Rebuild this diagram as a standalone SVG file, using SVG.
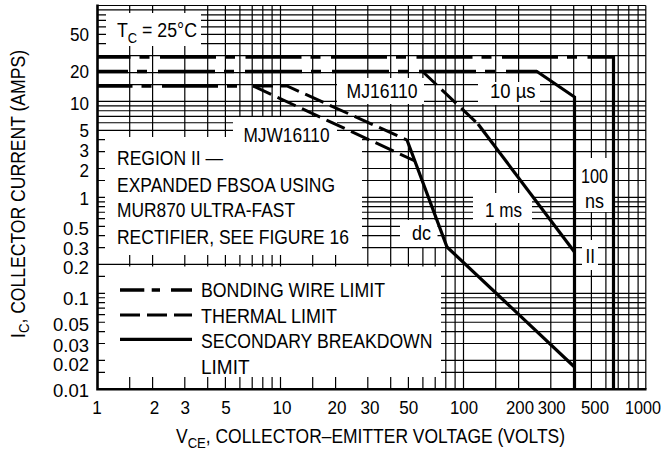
<svg xmlns="http://www.w3.org/2000/svg" width="667" height="455" viewBox="0 0 667 455">
<style>
text{font-family:'Liberation Sans',Arial,Helvetica,sans-serif;fill:#000}
.n{font-size:18.5px}
.l{font-size:20px}
.grid{stroke:#000;stroke-width:1.2;fill:none}
.ax{stroke:#000;stroke-width:2.6;fill:none}
.box{fill:#fff;stroke:none}
.bw{stroke:#000;stroke-width:3.6;fill:none}
.th{stroke:#000;stroke-width:3;fill:none;stroke-dasharray:20 7}
.sb{stroke:#000;stroke-width:3.2;fill:none;stroke-linejoin:miter}
</style>
<rect width="667" height="455" fill="#fff"/>
<g id="grid">
<path class="grid" d="M97.5 5.5H645.8M97.5 9.89H645.8M97.5 14.8H645.8M97.5 20.36H645.8M97.5 26.78H645.8M97.5 34.38H645.8M97.5 43.68H645.8M97.5 55.67H645.8M97.5 72.57H645.8M97.5 84.55H645.8M97.5 101.45H645.8M97.5 105.84H645.8M97.5 110.75H645.8M97.5 116.31H645.8M97.5 122.73H645.8M97.5 130.33H645.8M97.5 139.63H645.8M97.5 151.62H645.8M97.5 168.52H645.8M97.5 180.5H645.8M97.5 197.4H645.8M97.5 201.79H645.8M97.5 206.7H645.8M97.5 212.26H645.8M97.5 218.68H645.8M97.5 226.28H645.8M97.5 235.58H645.8M97.5 247.57H645.8M97.5 264.47H645.8M97.5 276.45H645.8M97.5 293.35H645.8M97.5 297.74H645.8M97.5 302.65H645.8M97.5 308.21H645.8M97.5 314.63H645.8M97.5 322.23H645.8M97.5 331.53H645.8M97.5 343.52H645.8M97.5 360.42H645.8M97.5 372.4H645.8"/>
<path class="grid" d="M129.7 5.5V389.3M152.6 5.5V389.3M184.8 5.5V389.3M207.7 5.5V389.3M225.4 5.5V389.3M239.9 5.5V389.3M252.2 5.5V389.3M262.8 5.5V389.3M272.1 5.5V389.3M280.5 5.5V389.3M312.7 5.5V389.3M335.6 5.5V389.3M367.8 5.5V389.3M390.7 5.5V389.3M408.4 5.5V389.3M422.9 5.5V389.3M435.2 5.5V389.3M445.8 5.5V389.3M455.1 5.5V389.3M463.5 5.5V389.3M495.7 5.5V389.3M518.6 5.5V389.3M550.8 5.5V389.3M573.7 5.5V389.3M591.4 5.5V389.3M605.9 5.5V389.3M618.2 5.5V389.3M628.8 5.5V389.3M638.1 5.5V389.3M645.8 5.5V389.3"/>
</g>
<g id="label-boxes">
<rect class="box" x="106" y="13" width="95" height="33"/>
<rect class="box" x="337" y="78" width="87" height="26"/>
<rect class="box" x="233" y="117" width="104" height="28"/>
<rect class="box" x="105" y="137" width="257" height="118"/>
<rect class="box" x="400" y="220" width="37.5" height="27"/>
<rect class="box" x="105" y="266.5" width="336" height="110.5"/>
<rect class="box" x="478" y="82" width="62" height="23"/>
<rect class="box" x="473" y="193" width="59" height="30"/>
<rect class="box" x="575" y="158" width="37" height="54"/>
<rect class="box" x="582" y="240" width="16" height="30"/>
</g>
<g id="axes">
<path class="ax" d="M97.5 4.5V390.5M96.2 389.3H646.5"/>
</g>
<g id="connectors">
<path class="bw" d="M97.5 57H613.5" stroke-dasharray="56 9 10 10.5" stroke-dashoffset="23"/>
<path class="sb" d="M613.5 55.2V389.3" stroke-width="4"/>
<path class="bw" d="M97.5 71.5H537" stroke-dasharray="57 9 10 11" stroke-dashoffset="26.5"/>
<path class="sb" d="M535.5 71.5H537L574.5 97V389.3" stroke-width="3.4"/>
<path class="bw" d="M97.5 86H246" stroke-dasharray="56 9 10 10.5" stroke-dashoffset="21"/>
<path class="th" d="M253 86H287L407 140"/>
<path class="th" d="M253 86L415 161"/>
<path class="sb" d="M407 140L447 247L574.5 367"/>
<path class="th" d="M422 71L478 124"/>
<path class="sb" d="M478 124L574.5 252"/>
</g>
<g id="curve-labels">
<text class="l" x="117" y="37.3" textLength="80" lengthAdjust="spacingAndGlyphs">T<tspan font-size="14.5" dy="5.2">C</tspan><tspan dy="-5.2"> = 25°C</tspan></text>
<text class="l" x="346.5" y="98.3" textLength="71" lengthAdjust="spacingAndGlyphs">MJ16110</text>
<text class="l" x="243.5" y="141.7" textLength="86" lengthAdjust="spacingAndGlyphs">MJW16110</text>
<text class="l" x="412" y="240" textLength="19" lengthAdjust="spacingAndGlyphs">dc</text>
<text class="l" x="490" y="98.3" textLength="45.5" lengthAdjust="spacingAndGlyphs">10 µs</text>
<text class="l" x="485" y="216.7" textLength="37" lengthAdjust="spacingAndGlyphs">1 ms</text>
<text class="l" x="581" y="183.3" textLength="27" lengthAdjust="spacingAndGlyphs">100</text>
<text class="l" x="585" y="208.3" textLength="19" lengthAdjust="spacingAndGlyphs">ns</text>
<text class="l" x="585.5" y="263.3" textLength="9.5" lengthAdjust="spacingAndGlyphs">II</text>
</g>
<g id="region-note">
<text class="l" x="117" y="165" textLength="106" lengthAdjust="spacingAndGlyphs">REGION II —</text>
<text class="l" x="117" y="191.5" textLength="218" lengthAdjust="spacingAndGlyphs">EXPANDED FBSOA USING</text>
<text class="l" x="117" y="217" textLength="178" lengthAdjust="spacingAndGlyphs">MUR870 ULTRA-FAST</text>
<text class="l" x="117" y="244" textLength="232" lengthAdjust="spacingAndGlyphs">RECTIFIER, SEE FIGURE 16</text>
</g>
<g id="legend">
<path class="bw" d="M120 290H192" stroke-width="3" stroke-dasharray="24.3 7.4 8.3 11 30"/>
<path class="th" d="M120 315H192" stroke-dasharray="21.5 5"/>
<path class="sb" d="M120 339.3H192" stroke-width="3"/>
<text class="l" x="201" y="297" textLength="184" lengthAdjust="spacingAndGlyphs">BONDING WIRE LIMIT</text>
<text class="l" x="201" y="322.7" textLength="136" lengthAdjust="spacingAndGlyphs">THERMAL LIMIT</text>
<text class="l" x="201" y="348.3" textLength="231.5" lengthAdjust="spacingAndGlyphs">SECONDARY BREAKDOWN</text>
<text class="l" x="201" y="374" textLength="48.5" lengthAdjust="spacingAndGlyphs">LIMIT</text>
</g>
<g id="y-ticks" text-anchor="end">
<text class="n" x="89" y="40.5" textLength="19" lengthAdjust="spacingAndGlyphs">50</text>
<text class="n" x="89" y="77.5" textLength="19" lengthAdjust="spacingAndGlyphs">20</text>
<text class="n" x="89" y="109.5" textLength="19" lengthAdjust="spacingAndGlyphs">10</text>
<text class="n" x="89" y="137" textLength="9.5" lengthAdjust="spacingAndGlyphs">5</text>
<text class="n" x="89" y="156.5" textLength="9.5" lengthAdjust="spacingAndGlyphs">3</text>
<text class="n" x="89" y="177" textLength="9.5" lengthAdjust="spacingAndGlyphs">2</text>
<text class="n" x="89" y="205" textLength="9.5" lengthAdjust="spacingAndGlyphs">1</text>
<text class="n" x="89" y="235" textLength="26" lengthAdjust="spacingAndGlyphs">0.5</text>
<text class="n" x="89" y="254.5" textLength="26" lengthAdjust="spacingAndGlyphs">0.3</text>
<text class="n" x="89" y="273.5" textLength="26" lengthAdjust="spacingAndGlyphs">0.2</text>
<text class="n" x="89" y="305" textLength="26" lengthAdjust="spacingAndGlyphs">0.1</text>
<text class="n" x="89" y="330.5" textLength="36" lengthAdjust="spacingAndGlyphs">0.05</text>
<text class="n" x="89" y="352" textLength="36" lengthAdjust="spacingAndGlyphs">0.03</text>
<text class="n" x="89" y="371" textLength="36" lengthAdjust="spacingAndGlyphs">0.02</text>
<text class="n" x="89" y="396.5" textLength="36" lengthAdjust="spacingAndGlyphs">0.01</text>
</g>
<g id="x-ticks" text-anchor="middle">
<text class="n" x="97" y="414" textLength="9.5" lengthAdjust="spacingAndGlyphs">1</text>
<text class="n" x="154.5" y="414" textLength="9.5" lengthAdjust="spacingAndGlyphs">2</text>
<text class="n" x="185.3" y="414" textLength="9.5" lengthAdjust="spacingAndGlyphs">3</text>
<text class="n" x="226" y="414" textLength="9.5" lengthAdjust="spacingAndGlyphs">5</text>
<text class="n" x="282" y="414" textLength="19" lengthAdjust="spacingAndGlyphs">10</text>
<text class="n" x="337" y="414" textLength="19" lengthAdjust="spacingAndGlyphs">20</text>
<text class="n" x="370" y="414" textLength="19" lengthAdjust="spacingAndGlyphs">30</text>
<text class="n" x="408.7" y="414" textLength="19" lengthAdjust="spacingAndGlyphs">50</text>
<text class="n" x="464" y="414" textLength="28" lengthAdjust="spacingAndGlyphs">100</text>
<text class="n" x="520" y="414" textLength="28" lengthAdjust="spacingAndGlyphs">200</text>
<text class="n" x="551.7" y="414" textLength="28" lengthAdjust="spacingAndGlyphs">300</text>
<text class="n" x="595" y="414" textLength="28" lengthAdjust="spacingAndGlyphs">500</text>
<text class="n" x="643" y="414" textLength="36" lengthAdjust="spacingAndGlyphs">1000</text>
</g>
<g id="axis-titles">
<text class="l" x="176" y="443.3" textLength="389" lengthAdjust="spacingAndGlyphs">V<tspan font-size="15" dy="5">CE</tspan><tspan dy="-5">, COLLECTOR–EMITTER VOLTAGE (VOLTS)</tspan></text>
<text class="l" transform="translate(24.5,338) rotate(-90)" x="0" y="0" textLength="288" lengthAdjust="spacingAndGlyphs">I<tspan font-size="15" dy="4.5">C</tspan><tspan dy="-4.5">, COLLECTOR CURRENT (AMPS)</tspan></text>
</g>
</svg>
